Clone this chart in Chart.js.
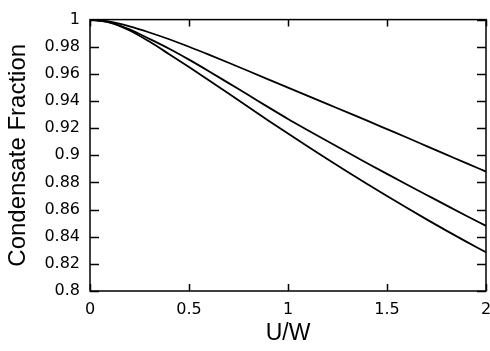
<!DOCTYPE html>
<html>
<head>
<meta charset="utf-8">
<script src="https://cdn.jsdelivr.net/npm/chart.js@4/dist/chart.umd.min.js"></script>
<style>
html,body{margin:0;padding:0;background:#fff;}
#wrap{width:490px;height:351px;}
</style>
</head>
<body>
<div id="wrap"><canvas id="c" width="490" height="351"></canvas></div>
<script>
const uw = [0,0.1,0.2,0.3,0.4,0.5,0.6,0.7,0.8,0.9,1.0,1.1,1.2,1.3,1.4,1.5,1.6,1.7,1.8,1.9,2.0];
const curveTop = [1.000,0.9985,0.9950,0.9905,0.9855,0.9800,0.9742,0.9682,0.9621,0.9560,0.9499,0.9438,0.9377,0.9316,0.9255,0.9193,0.9131,0.9068,0.9005,0.8942,0.8880];
const curveMid = [1.000,0.9980,0.9928,0.9858,0.9785,0.9705,0.9620,0.9532,0.9444,0.9355,0.9268,0.9185,0.9103,0.9022,0.8942,0.8863,0.8785,0.8708,0.8631,0.8555,0.8480];
const curveBot = [1.000,0.9978,0.9920,0.9838,0.9745,0.9650,0.9553,0.9455,0.9356,0.9257,0.9160,0.9065,0.8971,0.8879,0.8789,0.8700,0.8613,0.8528,0.8445,0.8364,0.8285];
const xTicks = [0,0.5,1,1.5,2];
const yTicks = [0.8,0.82,0.84,0.86,0.88,0.9,0.92,0.94,0.96,0.98,1];

Chart.defaults.font.family = 'DejaVu Sans';
Chart.defaults.font.size = 16;
Chart.defaults.color = '#000';

function pts(ys){ return uw.map((x,i)=>({x:x,y:ys[i]})); }
const lineStyle = {borderColor:'#000',borderWidth:1.8,pointRadius:0,fill:false,cubicInterpolationMode:'monotone'};

const frame = {
  id:'frame',
  afterDatasetsDraw(chart){
    const {ctx, chartArea:a, scales} = chart;
    ctx.save();
    ctx.strokeStyle='#000';
    ctx.lineWidth=1.5;
    ctx.beginPath();
    xTicks.forEach(v=>{
      const px = Math.round(scales.x.getPixelForValue(v))+0.5;
      ctx.moveTo(px,a.bottom); ctx.lineTo(px,a.bottom-7);
      ctx.moveTo(px,a.top); ctx.lineTo(px,a.top+7);
    });
    yTicks.forEach(v=>{
      const py = Math.round(scales.y.getPixelForValue(v))+0.5;
      ctx.moveTo(a.left,py); ctx.lineTo(a.left+9,py);
      ctx.moveTo(a.right,py); ctx.lineTo(a.right-9,py);
    });
    ctx.stroke();
    ctx.strokeRect(a.left,a.top,a.right-a.left,a.bottom-a.top);
    ctx.restore();
  }
};

new Chart(document.getElementById('c'),{
  type:'line',
  data:{datasets:[
    Object.assign({label:'a',data:pts(curveTop)},lineStyle),
    Object.assign({label:'b',data:pts(curveMid)},lineStyle),
    Object.assign({label:'c',data:pts(curveBot)},lineStyle)
  ]},
  options:{
    responsive:false,
    animation:false,
    layout:{padding:{top:10,right:4,left:0,bottom:0}},
    plugins:{legend:{display:false},tooltip:{enabled:false}},
    scales:{
      x:{
        type:'linear',min:0,max:2,
        afterBuildTicks(s){ s.ticks = xTicks.map(v=>({value:v})); },
        afterFit(s){ s.height=60; s.paddingLeft=0; s.paddingRight=0; },
        grid:{display:false,drawTicks:false},
        border:{display:false},
        ticks:{color:'#000',padding:9,maxRotation:0,autoSkip:false,font:{family:'DejaVu Sans',size:16},callback:v=>String(v)},
        title:{display:true,text:'U/W',color:'#000',padding:{top:0,bottom:4},font:{family:'Liberation Sans',size:23}}
      },
      y:{
        type:'linear',min:0.8,max:1,
        afterBuildTicks(s){ s.ticks = yTicks.map(v=>({value:v})); },
        afterFit(s){ s.width=90; },
        grid:{display:false,drawTicks:false},
        border:{display:false},
        ticks:{color:'#000',padding:10,autoSkip:false,font:{family:'DejaVu Sans',size:16},callback:v=>String(Math.round(v*100)/100)},
        title:{display:true,text:'Condensate Fraction',color:'#000',padding:{top:4,bottom:0},font:{family:'Liberation Sans',size:24}}
      }
    }
  },
  plugins:[frame]
});
</script>
</body>
</html>
